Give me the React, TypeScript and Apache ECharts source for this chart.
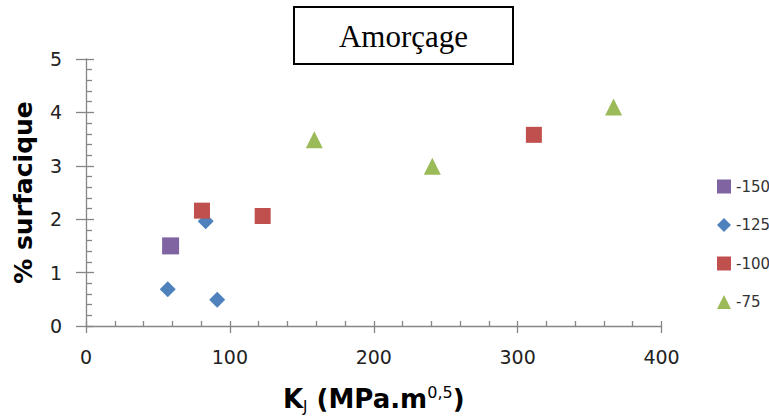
import React, { useEffect, useRef } from "react";
import * as echarts from "echarts";

const seriesNames = ["-150", "-125", "-100", "-75"];
const s150: number[][] = [[58.8, 1.5]];
const s125: number[][] = [[56.8, 0.69], [91.2, 0.49], [83.2, 1.96]];
const s100: number[][] = [[80.6, 2.16], [122.8, 2.06], [311.3, 3.58]];
const s75: number[][] = [[158.7, 3.49], [240.7, 2.99], [366.7, 4.1]];
const seriesData = [s150, s125, s100, s75];
const colors = ["#8064A2", "#4F81BD", "#C0504D", "#9BBB59"];
const symbols = ["rect", "diamond", "rect", "triangle"];
const sizes = [17, 16, 16, 17];
const titleText = "Amorçage";
const yTitle = "% surfacique";

const AXIS = "#868686";
const FONT = "DejaVu Sans";

export default function App() {
  const ref = useRef<HTMLDivElement>(null);
  useEffect(() => {
    if (!ref.current) return;
    const chart = echarts.init(ref.current, undefined, { renderer: "svg" });
    const baseX = {
      type: "value",
      min: 0,
      max: 400,
      interval: 100,
      position: "bottom",
      splitLine: { show: false },
    };
    const baseY = {
      type: "value",
      min: 0,
      max: 5,
      interval: 1,
      position: "left",
      splitLine: { show: false },
    };
    chart.setOption({
      animation: false,
      textStyle: { fontFamily: FONT },
      grid: { left: 86, right: 107.5, top: 59, bottom: 93, containLabel: false, outerBoundsMode: "none" },
      graphic: [
        {
          type: "rect",
          shape: { x: 294, y: 7, width: 219, height: 57 },
          style: { fill: "#fff", stroke: "#000", lineWidth: 2 },
          z: 10,
        },
        {
          type: "text",
          x: 403.5,
          y: 36,
          style: {
            text: titleText,
            font: "31px 'Liberation Serif'",
            fill: "#000",
            textAlign: "center",
            textVerticalAlign: "middle",
          },
          z: 11,
        },
      ],
      legend: {
        orient: "vertical",
        left: 712,
        top: 174,
        itemWidth: 14,
        itemHeight: 14,
        itemGap: 23.5,
        textStyle: { fontSize: 15, color: "#333", fontFamily: FONT },
        data: seriesNames.map((n, i) => ({ name: n, icon: symbols[i] })),
      },
      xAxis: [
        {
          ...baseX,
          axisLine: { lineStyle: { color: AXIS, width: 1.3 } },
          axisTick: { inside: false, length: 7, lineStyle: { color: AXIS, width: 1.3 } },
          axisLabel: { margin: 21, fontSize: 19, color: "#222", fontFamily: FONT },
          name: "{k|K}{sub|J}{k| (MPa.m}{sup|0,5}{k|)}",
          nameLocation: "middle",
          nameGap: 58,
          nameTextStyle: {
            rich: {
              k: { fontSize: 26, fontWeight: "bold", color: "#000", fontFamily: FONT, lineHeight: 30, verticalAlign: "middle" },
              sub: { fontSize: 15, color: "#000", fontFamily: FONT, lineHeight: 22, verticalAlign: "bottom" },
              sup: { fontSize: 16, color: "#000", fontFamily: FONT, lineHeight: 30, verticalAlign: "top" },
            },
          },
        },
        {
          ...baseX,
          axisLine: { show: false },
          axisLabel: { show: false },
          axisTick: { inside: true, length: 5, lineStyle: { color: AXIS, width: 1.3 } },
          minorTick: { show: true, splitNumber: 5, length: 5, lineStyle: { color: AXIS, width: 1.3 } },
        },
      ],
      yAxis: [
        {
          ...baseY,
          axisLine: { show: true, lineStyle: { color: AXIS, width: 1.3 } },
          axisTick: { show: true, inside: false, length: 10, lineStyle: { color: AXIS, width: 1.3 } },
          axisLabel: { margin: 24, fontSize: 19, color: "#222", fontFamily: FONT },
          name: yTitle,
          nameLocation: "middle",
          nameGap: 50,
          nameRotate: 90,
          nameTextStyle: { fontSize: 25, fontWeight: "bold", color: "#000", fontFamily: FONT },
        },
        {
          ...baseY,
          axisLine: { show: false },
          axisLabel: { show: false },
          axisTick: { show: true, inside: true, length: 8, lineStyle: { color: AXIS, width: 1.3 } },
          minorTick: { show: true, splitNumber: 5, length: 6, lineStyle: { color: AXIS, width: 1.3 } },
        },
      ],
      series: seriesNames.map((n, i) => ({
        name: n,
        type: "scatter",
        xAxisIndex: 0,
        yAxisIndex: 0,
        symbol: symbols[i],
        symbolSize: sizes[i],
        itemStyle: { color: colors[i], opacity: 1 },
        data: seriesData[i],
      })),
    });
    return () => chart.dispose();
  }, []);
  return <div ref={ref} style={{ width: 769, height: 419, position: "absolute", left: 0, top: 0 }} />;
}
